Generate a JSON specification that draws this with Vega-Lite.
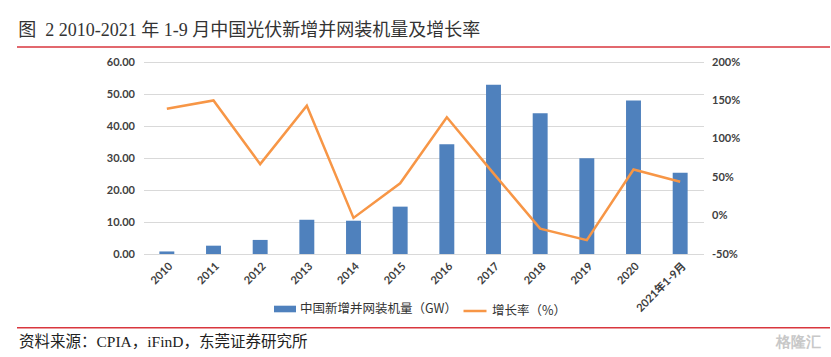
{
  "$schema": "https://vega.github.io/schema/vega-lite/v6.json",
  "background": "white",
  "padding": {"left": 16, "top": 22, "right": 0, "bottom": 0},
  "autosize": {"type": "pad"},
  "config": {"view": {"stroke": null}, "font": "Lato"},
  "datasets": {
    "header": [{"id": 1}],
    "pv": [
      {"year": "2010", "capacity": 0.8, "growth": 139},
      {"year": "2011", "capacity": 2.6, "growth": 150},
      {"year": "2012", "capacity": 4.4, "growth": 67},
      {"year": "2013", "capacity": 10.7, "growth": 143},
      {"year": "2014", "capacity": 10.4, "growth": -3},
      {"year": "2015", "capacity": 14.8, "growth": 42},
      {"year": "2016", "capacity": 34.3, "growth": 128},
      {"year": "2017", "capacity": 52.9, "growth": 55},
      {"year": "2018", "capacity": 44.0, "growth": -17},
      {"year": "2019", "capacity": 29.9, "growth": -32},
      {"year": "2020", "capacity": 48.0, "growth": 60},
      {"year": "2021年1-9月", "capacity": 25.4, "growth": 44}
    ],
    "footer": [{"source": "资料来源：CPIA，iFinD，东莞证券研究所", "wm": "格隆汇"}]
  },
  "spacing": 15,
  "center": true,
  "bounds": "flush",
  "vconcat": [
    {
      "width": 813,
      "height": 1,
      "title": {"text": "图\u00a0 2 2010-2021 年 1-9 月中国光伏新增并网装机量及增长率", "anchor": "start", "font": "Liberation Serif, Noto Sans CJK SC", "fontSize": 18, "fontWeight": "normal", "color": "#333333", "offset": 6, "dx": 2},
      "data": {"name": "header"},
      "mark": {"type": "rule", "color": "#d9363e", "strokeWidth": 1.5},
      "encoding": {
        "x": {"datum": 0, "type": "quantitative", "scale": {"domain": [0, 1]}, "axis": null},
        "x2": {"datum": 1},
        "y": {"datum": 0, "type": "quantitative", "scale": {"domain": [0, 1]}, "axis": null}
      }
    },
    {
      "width": 560,
      "height": 192,
      "data": {"name": "pv"},
      "encoding": {
        "x": {
          "field": "year", "type": "nominal", "sort": null,
          "scale": {"paddingInner": 0.68, "paddingOuter": 0.34},
          "axis": {"labelAngle": -45, "domain": false, "ticks": false, "labelPadding": 6, "labelFontSize": 11, "labelFontWeight": "bold", "labelColor": "#404040", "title": null, "labelFont": "Lato, Noto Sans CJK SC"}
        }
      },
      "layer": [
        {
          "mark": {"type": "bar"},
          "encoding": {
            "y": {
              "field": "capacity", "type": "quantitative", "scale": {"domain": [0, 60]},
              "axis": {"values": [0, 10, 20, 30, 40, 50, 60], "format": ".2f", "title": null, "domain": false, "ticks": false, "labelPadding": 9, "gridColor": "#d9d9d9", "labelFontWeight": "bold", "labelFontSize": 11, "labelColor": "#404040"}
            },
            "fill": {
              "datum": "中国新增并网装机量（GW）",
              "scale": {"range": ["#4f81bd"]},
              "legend": {"orient": "none", "legendX": 257, "legendY": 252, "title": null, "symbolType": "M-1,-0.3H1V0.3H-1Z", "symbolSize": 484, "symbolStrokeWidth": 0, "labelFontSize": 12.5, "labelFont": "Noto Sans CJK SC", "labelColor": "#333333", "labelOffset": 4, "padding": 0}
            }
          }
        },
        {
          "mark": {"type": "line", "strokeWidth": 2.5},
          "encoding": {
            "y": {
              "field": "growth", "type": "quantitative", "scale": {"domain": [-50, 200]},
              "axis": {"orient": "right", "values": [-50, 0, 50, 100, 150, 200], "labelExpr": "datum.value + '%'", "grid": false, "title": null, "domain": false, "ticks": false, "labelPadding": 8, "labelFontWeight": "bold", "labelFontSize": 11, "labelColor": "#404040"}
            },
            "stroke": {
              "datum": "增长率（%）",
              "scale": {"range": ["#f79646"]},
              "legend": {"orient": "none", "legendX": 445, "legendY": 252, "title": null, "symbolType": "stroke", "symbolSize": 529, "symbolStrokeWidth": 2.5, "labelFontSize": 12.5, "labelFont": "Noto Sans CJK SC", "labelColor": "#333333", "labelOffset": 4, "padding": 0}
            }
          }
        }
      ],
      "resolve": {"scale": {"y": "independent"}}
    },
    {
      "width": 813,
      "height": 88,
      "data": {"name": "footer"},
      "layer": [
        {
          "mark": {"type": "rule", "color": "#d9363e", "strokeWidth": 1.5},
          "encoding": {
            "x": {"datum": 0, "type": "quantitative", "scale": {"domain": [0, 1]}, "axis": null},
            "x2": {"datum": 1},
            "y": {"datum": 0.333, "type": "quantitative", "scale": {"domain": [0, 1]}, "axis": null}
          }
        },
        {
          "mark": {"type": "text", "align": "left", "baseline": "middle", "fontSize": 15.5, "font": "Liberation Serif, Noto Sans CJK SC", "color": "#222222", "dx": 2},
          "encoding": {
            "x": {"datum": 0, "type": "quantitative"},
            "y": {"datum": 0.17, "type": "quantitative"},
            "text": {"field": "source"}
          }
        },
        {
          "mark": {"type": "text", "align": "right", "baseline": "middle", "fontSize": 15, "fontWeight": "bold", "color": "#c8c8c8", "dx": -9},
          "encoding": {
            "x": {"datum": 1, "type": "quantitative"},
            "y": {"datum": 0.17, "type": "quantitative"},
            "text": {"field": "wm"}
          }
        }
      ]
    }
  ]
}
